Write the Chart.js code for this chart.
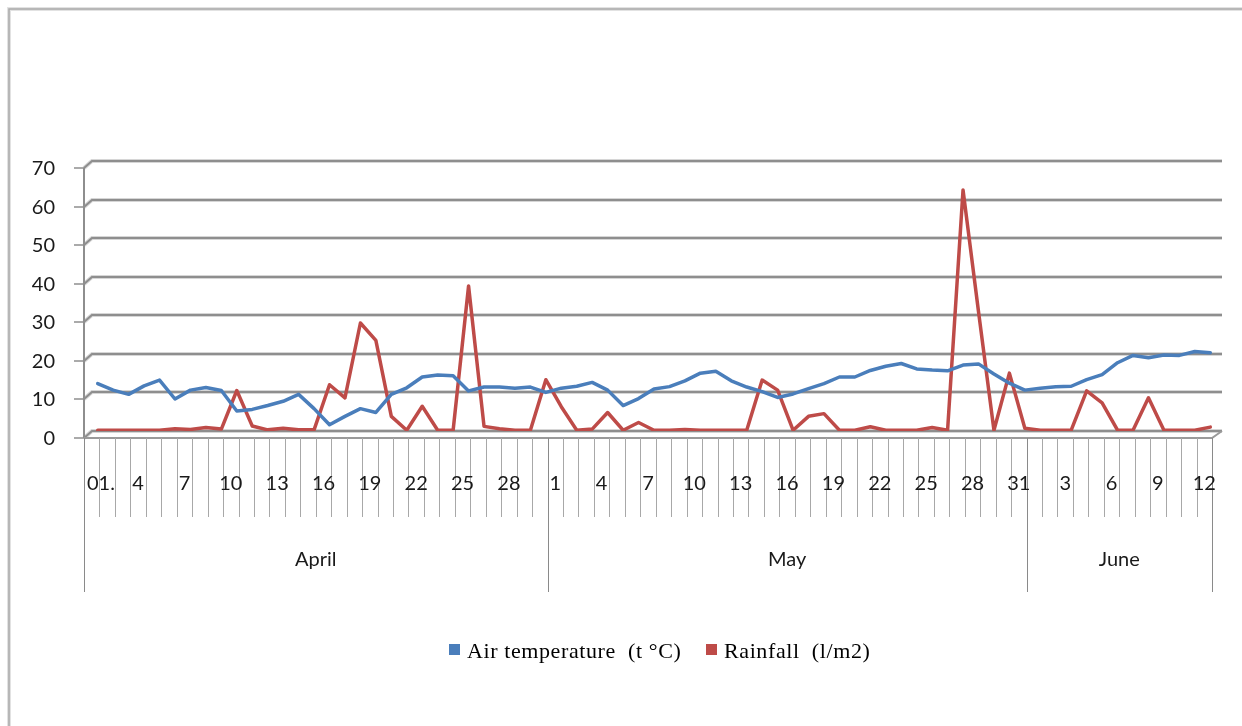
<!DOCTYPE html>
<html lang="en">
<head>
<meta charset="UTF-8">
<title>Air temperature and rainfall</title>
<script src="https://cdn.jsdelivr.net/npm/chart.js"></script>
<style>
  html, body { margin: 0; padding: 0; background: #fff; }
  #wrap { width: 1242px; height: 726px; }
</style>
</head>
<body>
<div id="wrap"><canvas id="weatherChart" width="1242" height="726"></canvas></div>
<script>
  // months shown under the day axis and how many days each one has
  const months = ["April", "May", "June"];
  const monthDays = [30, 31, 12];

  const yTicks = [0, 10, 20, 30, 40, 50, 60, 70];

  // Air temperature (t °C), 1 April .. 12 June
  const airTemperature = [
    12.3, 10.6, 9.5, 11.7, 13.2, 8.3, 10.6, 11.3, 10.5, 5.2,
    5.6, 6.6, 7.7, 9.5, 5.8, 1.6, 3.8, 5.8, 4.8, 9.5,
    11.2, 14.0, 14.5, 14.3, 10.4, 11.4, 11.4, 11.1, 11.4, 10.0,
    11.1, 11.6, 12.6, 10.6, 6.6, 8.4, 10.9, 11.5, 13.0, 15.0,
    15.5, 13.0, 11.4, 10.2, 8.7, 9.6, 11.0, 12.3, 14.0, 14.0,
    15.7, 16.8, 17.5, 16.1, 15.8, 15.6, 17.1, 17.4, 14.8, 12.4,
    10.6, 11.1, 11.5, 11.6, 13.3, 14.6, 17.7, 19.6, 19.0, 19.7,
    19.6, 20.6, 20.3
  ];

  // Rainfall (l/m2), 1 April .. 12 June
  const rainfall = [
    0.2, 0.2, 0.2, 0.2, 0.2, 0.6, 0.4, 0.9, 0.5, 10.5,
    1.3, 0.3, 0.7, 0.3, 0.3, 12.0, 8.6, 28.0, 23.5, 3.8,
    0.2, 6.4, 0.2, 0.2, 37.6, 1.2, 0.6, 0.2, 0.2, 13.3,
    6.3, 0.2, 0.5, 4.8, 0.2, 2.2, 0.2, 0.2, 0.4, 0.2,
    0.2, 0.2, 0.2, 13.2, 10.6, 0.2, 3.8, 4.5, 0.2, 0.2,
    1.1, 0.2, 0.2, 0.2, 0.9, 0.2, 62.5, 31.0, 0.2, 15.0,
    0.7, 0.2, 0.2, 0.2, 10.4, 7.3, 0.2, 0.2, 8.6, 0.2,
    0.2, 0.2, 1.0
  ];

  const seriesNames = ["Air temperature  (t °C)", "Rainfall  (l/m2)"];

  // day labels, first one written the way the original sheet has it
  const dayLabels = [];
  monthDays.forEach((n, m) => {
    for (let d = 1; d <= n; d++) dayLabels.push(m === 0 && d === 1 ? "01." : String(d));
  });

  const BLUE = "#4a7ebb";
  const RED = "#be4b48";
  const DX = -6, DY = 7; // shift from back wall to front plane (fake 3D)
  const LABEL_FONT = "20px Lato, 'Open Sans', sans-serif";

  const excelLook = {
    id: "excelLook",
    beforeDatasetsDraw(chart) {
      const { ctx, chartArea: a, scales: { x, y } } = chart;
      ctx.save();

      // back wall gridlines with the slanted joint to the front axis
      yTicks.forEach(v => {
        const py = Math.round(y.getPixelForValue(v));
        ctx.lineCap = "butt";
        ctx.strokeStyle = "#d6d6d6";
        ctx.lineWidth = 4;
        ctx.beginPath();
        ctx.moveTo(a.left + DX, py + DY);
        ctx.lineTo(a.left + 2, py);
        ctx.lineTo(a.right + 4, py);
        ctx.stroke();
        ctx.strokeStyle = "#8e8e8e";
        ctx.lineWidth = 2;
        ctx.stroke();

        // tick mark and label on the front axis
        ctx.strokeStyle = "#8e8e8e";
        ctx.lineWidth = 1.5;
        ctx.beginPath();
        ctx.moveTo(a.left + DX - 10, py + DY);
        ctx.lineTo(a.left + DX, py + DY);
        ctx.stroke();

        ctx.fillStyle = "#1a1a1a";
        ctx.font = LABEL_FONT;
        ctx.textAlign = "right";
        ctx.textBaseline = "middle";
        ctx.fillText(String(v), a.left + DX - 29, py + DY + 1);
      });

      const y0 = Math.round(y.getPixelForValue(0)) + DY;
      const yTop = Math.round(y.getPixelForValue(70)) + DY;

      // front value axis
      ctx.strokeStyle = "#8e8e8e";
      ctx.lineWidth = 2;
      ctx.beginPath();
      ctx.moveTo(a.left + DX, yTop);
      ctx.lineTo(a.left + DX, y0);
      ctx.stroke();

      // floor: front edge and right slant
      const sp = x.getPixelForValue(1) - x.getPixelForValue(0);
      const b0 = x.getPixelForValue(0) - sp / 2;
      const n = dayLabels.length;
      ctx.strokeStyle = "#9a9a9a";
      ctx.lineWidth = 2;
      ctx.beginPath();
      ctx.moveTo(a.left + DX, y0);
      ctx.lineTo(b0 + n * sp + DX, y0);
      ctx.lineTo(a.right + 4, y0 - DY);
      ctx.stroke();

      // category ticks, longer ones between months
      const monthEdges = [0];
      monthDays.forEach(d => monthEdges.push(monthEdges[monthEdges.length - 1] + d));
      ctx.lineWidth = 1;
      for (let k = 0; k <= n; k++) {
        const bx = Math.round(b0 + k * sp + DX) + 0.5;
        const isMonth = monthEdges.includes(k);
        ctx.strokeStyle = isMonth ? "#8a8a8a" : "#a8a8a8";
        ctx.beginPath();
        ctx.moveTo(bx, y0);
        ctx.lineTo(bx, y0 + (isMonth ? 154 : 79));
        ctx.stroke();
      }

      // day labels every third day
      ctx.fillStyle = "#1a1a1a";
      ctx.font = LABEL_FONT;
      ctx.textAlign = "center";
      ctx.textBaseline = "middle";
      dayLabels.forEach((lab, i) => {
        if (i % 3 !== 0) return;
        let cx = x.getPixelForValue(i) + DX;
        const w = ctx.measureText(lab).width;
        cx = Math.max(cx, a.left + DX + w / 2 + 3);
        ctx.fillText(lab, cx, y0 + 46);
      });

      // month labels
      months.forEach((m, j) => {
        const cx = b0 + DX + sp * (monthEdges[j] + monthEdges[j + 1]) / 2;
        ctx.fillText(m, cx, y0 + 122);
      });

      ctx.restore();
    },
    afterDraw(chart) {
      const { ctx } = chart;
      ctx.save();

      // legend
      ctx.font = "22px 'Liberation Serif', 'Times New Roman', serif";
      ctx.letterSpacing = "0.6px";
      ctx.textBaseline = "alphabetic";
      ctx.textAlign = "left";
      const items = [
        { name: seriesNames[0], color: BLUE, x: 449 },
        { name: seriesNames[1], color: RED, x: 706 }
      ];
      items.forEach(it => {
        ctx.fillStyle = it.color;
        ctx.fillRect(it.x, 644, 11, 11);
        ctx.fillStyle = "#000";
        ctx.fillText(it.name, it.x + 18, 658);
      });
      ctx.letterSpacing = "0px";

      // outer frame of the chart object
      ctx.strokeStyle = "#e2e2e2";
      ctx.lineWidth = 4;
      ctx.beginPath();
      ctx.moveTo(9, 726);
      ctx.lineTo(9, 9);
      ctx.lineTo(1242, 9);
      ctx.stroke();
      ctx.strokeStyle = "#a9a9a9";
      ctx.lineWidth = 1.5;
      ctx.stroke();

      ctx.restore();
    }
  };

  new Chart(document.getElementById("weatherChart").getContext("2d"), {
    type: "line",
    data: {
      labels: dayLabels,
      datasets: [
        {
          label: seriesNames[0],
          data: airTemperature,
          borderColor: BLUE,
          backgroundColor: BLUE,
          borderWidth: 3.5,
          pointRadius: 0,
          tension: 0,
          borderJoinStyle: "round",
          borderCapStyle: "round"
        },
        {
          label: seriesNames[1],
          data: rainfall,
          borderColor: RED,
          backgroundColor: RED,
          borderWidth: 3.5,
          pointRadius: 0,
          tension: 0,
          borderJoinStyle: "round",
          borderCapStyle: "round"
        }
      ]
    },
    options: {
      responsive: false,
      animation: false,
      devicePixelRatio: 1,
      layout: { padding: { left: 90, right: 24, top: 161, bottom: 295 } },
      plugins: {
        legend: { display: false },
        tooltip: { enabled: false }
      },
      scales: {
        x: { type: "category", offset: true, display: false },
        y: { min: 0, max: 70, display: false }
      }
    },
    plugins: [excelLook]
  });
</script>
</body>
</html>
